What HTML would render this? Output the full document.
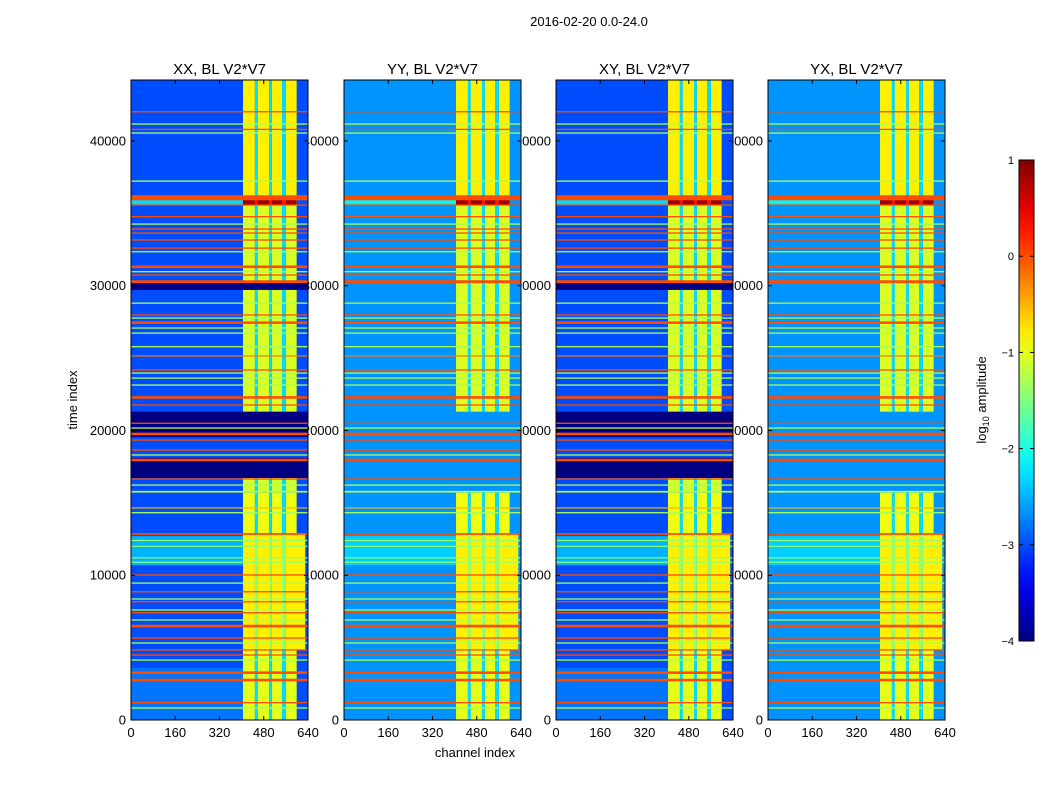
<!DOCTYPE html>
<html><head><meta charset="utf-8"><style>
html,body{margin:0;padding:0;background:#fff;}
svg{display:block;font-family:"Liberation Sans",sans-serif;}
</style></head><body>
<svg id="fig" width="1050" height="800" viewBox="0 0 1050 800" xmlns="http://www.w3.org/2000/svg">
<rect width="1050" height="800" fill="#fff"/>
<text x="589" y="26" font-size="13" text-anchor="middle">2016-02-20 0.0-24.0</text>
<g id="labels"></g>
<g id="panels"></g>
<text x="475" y="757" font-size="13" text-anchor="middle">channel index</text>
<text transform="translate(77,400) rotate(-90)" font-size="13" text-anchor="middle">time index</text>
<g id="cbar"></g>
<text transform="translate(986,400) rotate(-90)" font-size="13" text-anchor="middle">log<tspan font-size="9" dy="3">10</tspan><tspan dy="-3"> amplitude</tspan></text>
</svg>
<script>
// ---- data ----
const panelTitles = ["XX, BL V2*V7","YY, BL V2*V7","XY, BL V2*V7","YX, BL V2*V7"];
const panelBg = [-3.0,-2.65,-3.0,-2.65];
const panelHasNavy = [true,false,true,false];
const xTicks = [0,160,320,480,640];
const yTicks = [0,10000,20000,30000,40000];
const cbarTicks = [1,0,-1,-2,-3,-4];
// RFI columns (channel start, end)
const rfiCols = [[405,448],[458,499],[509,546],[560,599]];
const gapCols = [[448,458],[499,509],[546,560]];
// RFI time ranges [start,end,level,maxChannel]
const rfiRanges = [[36100,44200,-0.8,599],[35550,36100,0.85,599],[21300,35550,-1.05,599],
  [19550,21300,-1.1,599],[15700,18100,-1.1,599],[12900,15700,-0.95,599],[4840,12900,-0.8,630],[0,4840,-1.0,599]];
// lighter background bands [start,end,level]
const bgBands = [[10700,12700,-2.5],[35600,36000,-2.3],[0,3600,-2.8]];
// navy blocks (XX, XY only)
const navyBlocks = [[29710,30190],[19550,21300],[16720,18100]];
// horizontal lines [time, thickness, level]
const hLines = [[42020,90,0],[41170,90,-1.3],[40800,90,0],[40550,90,-1.3],[37230,90,-1.3],
 [36080,350,0],[35575,90,0],[34770,90,0],[34260,90,-1.3],[33920,90,0],[33640,90,0],[33160,90,0],
 [32600,90,0],[32350,90,-1.3],[31310,180,0],[30970,90,-1.3],[30740,90,0],[30280,200,0],
 [28800,90,-1.3],[27980,90,0],[27770,90,-1.3],[27450,170,0],[27080,90,-1.3],[26730,90,-1.3],
 [25790,90,-1.3],[25150,70,-0.2],[24180,90,0],[23970,90,-1.3],[23620,90,-1.3],[23140,90,-1.3],
 [22330,90,0],[22240,90,0],[21760,90,0],[20500,90,0],[20170,90,-1.3],[19760,180,0],[19340,90,0],
 [18650,90,0],[18310,90,-1.3],[17960,180,0],[16650,90,0],[16230,90,-1.3],[15770,120,-1.3],
 [14650,60,-0.5],[14320,90,-1.3],[12850,120,0],[12400,70,-1.4],[12000,70,-1.4],[11200,70,-1.4],[10900,70,-1.4],
 [10020,90,0],[9460,90,-1.3],[8860,90,0],[8360,90,-1.3],[8170,90,0],[7600,90,-1.3],[7410,90,0],
 [6910,90,-1.3],[6490,180,0],[5660,90,0],[5320,90,-1.3],[4840,90,0],[4490,90,0],[4140,90,-1.3],
 [3270,180,0],[2760,180,0],[1200,90,0],[830,90,-1.3]];

// ---- helpers ----
const NS="http://www.w3.org/2000/svg";
const panelX=[131,344,556,768], PW=177, PT=80, PB=720, YMAX=44214, XMAX=640;
function jet(v){let t=Math.max(0,Math.min(1,(v+4)/5));
 const f=x=>Math.round(255*Math.max(0,Math.min(1,x)));
 const r=f(1.5-Math.abs(4*t-3)), g=f(1.5-Math.abs(4*t-2)), b=f(1.5-Math.abs(4*t-1));
 return `rgb(${r},${g},${b})`;}
function mk(tag,attrs,parent){const e=document.createElementNS(NS,tag);for(const k in attrs)e.setAttribute(k,attrs[k]);parent.appendChild(e);return e;}
const labels=document.getElementById('labels'), panels=document.getElementById('panels');

panelTitles.forEach((title,p)=>{
 const x0=panelX[p];
 const sx=c=>x0+c/XMAX*PW, sy=t=>PB-t/YMAX*(PB-PT);
 yTicks.forEach(t=>{const e=mk('text',{x:x0-5,y:sy(t)+4.5,'font-size':13,'text-anchor':'end'},labels);e.textContent=t;
  
  });
 const g=mk('g',{},panels);
 
 
 let r=mk('rect',{x:x0,y:PT,width:PW,height:PB-PT,fill:jet(panelBg[p])},g);
 
 
 bgBands.forEach(b=>{let e=mk('rect',{x:sx(0),y:sy(b[1]),width:sx(600)-sx(0),height:sy(b[0])-sy(b[1]),fill:jet(b[2]+(panelBg[p]+3.0)*0.4)},g);
  
  });
 rfiRanges.forEach(rr=>{
  if(!panelHasNavy[p] && rr[0]>=15700 && rr[1]<=21300) return;
  rfiCols.forEach((c,i)=>{const ce=(i===3)?Math.min(rr[3],640):c[1];
   let e=mk('rect',{x:sx(c[0]),y:sy(rr[1]),width:sx(ce)-sx(c[0]),height:sy(rr[0])-sy(rr[1]),fill:jet(rr[2])},g);
   
   });
  gapCols.forEach(c=>{let e=mk('rect',{x:sx(c[0]),y:sy(rr[1]),width:sx(c[1])-sx(c[0]),height:sy(rr[0])-sy(rr[1]),fill:jet(rr[3]>600?-1.4:(rr[2]>0?0.3:-2.3))},g);
   
   });
 });
 if(panelHasNavy[p]) navyBlocks.forEach(b=>{let e=mk('rect',{x:x0,y:sy(b[1]),width:PW,height:sy(b[0])-sy(b[1]),fill:jet(-4)},g);
  
  });
 hLines.forEach(l=>{const h=Math.max(1.2,l[1]/YMAX*(PB-PT));
  let e=mk('rect',{x:x0,y:sy(l[0])-h/2,width:PW,height:h,fill:jet(l[2])},g);
  
  });
 let fr=mk('rect',{x:x0,y:PT,width:PW,height:PB-PT,fill:'none',stroke:'#000','stroke-width':1},g);
 
 
 xTicks.forEach(t=>{const x=sx(t);
  mk('line',{x1:x,x2:x,y1:PB,y2:PB-4,stroke:'#000'},g);mk('line',{x1:x,x2:x,y1:PT,y2:PT+4,stroke:'#000'},g);
  const e=mk('text',{x:x,y:PB+17,'font-size':13,'text-anchor':'middle'},g);e.textContent=t;
  
  });
 yTicks.forEach(t=>{const y=sy(t);mk('line',{x1:x0,x2:x0+4,y1:y,y2:y,stroke:'#000'},g);mk('line',{x1:x0+PW,x2:x0+PW-4,y1:y,y2:y,stroke:'#000'},g);});
 const te=mk('text',{x:x0+PW/2,y:74,'font-size':15,'text-anchor':'middle'},g);te.textContent=title;
 
 
});
const cb=document.getElementById('cbar');
const CX=1019,CW=15,CT=160,CBt=641;
const defs=mk('defs',{},cb);const lg=mk('linearGradient',{id:'jetg',x1:0,y1:1,x2:0,y2:0},defs);
for(let i=0;i<=20;i++){mk('stop',{offset:i/20,'stop-color':jet(-4+5*i/20)},lg);}
let cr=mk('rect',{x:CX,y:CT,width:CW,height:CBt-CT,fill:'url(#jetg)',stroke:'#000','stroke-width':1},cb);


cbarTicks.forEach(v=>{const y=CBt-(v+4)/5*(CBt-CT);
 mk('line',{x1:CX,x2:CX+4,y1:y,y2:y,stroke:'#000'},cb);mk('line',{x1:CX+CW,x2:CX+CW-4,y1:y,y2:y,stroke:'#000'},cb);
 const e=mk('text',{x:1014,y:y+4,'font-size':11,'text-anchor':'end'},cb);e.textContent=v<0?'\u2212'+(-v):v;
 
 });
</script>
</body></html>
